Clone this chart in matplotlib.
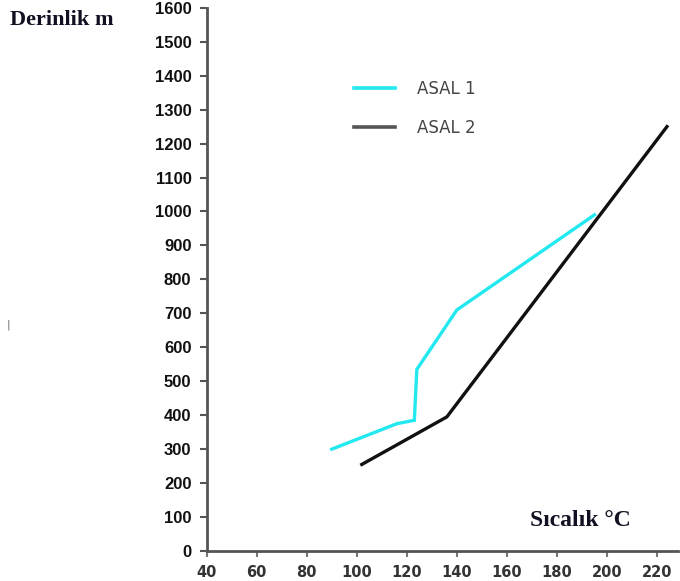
import matplotlib
matplotlib.use("Agg")
import matplotlib.pyplot as plt
from matplotlib.lines import Line2D

# Data
asal1_temp = [90, 116, 123, 124, 140, 195]
asal1_depth = [300, 375, 385, 535, 710, 990]
asal2_temp = [102, 136, 224]
asal2_depth = [255, 395, 1250]
x_ticks = [40, 60, 80, 100, 120, 140, 160, 180, 200, 220]
y_ticks = list(range(0, 1700, 100))

fig = plt.figure(figsize=(6.8, 5.81), dpi=100)
ax = fig.add_axes([0.304, 0.0516, 0.693, 0.935])

ax.plot(asal1_temp, asal1_depth, color="#22e8ef", lw=2.4, solid_joinstyle="miter")
ax.plot(asal2_temp, asal2_depth, color="#111111", lw=2.4, solid_joinstyle="miter")

ax.set_xlim(40, 228.4)
ax.set_ylim(0, 1600)
ax.set_xticks(x_ticks)
ax.set_yticks(y_ticks)
ax.set_xticklabels([str(v) for v in x_ticks], fontfamily="DejaVu Sans",
                   fontweight="bold", fontsize=10.5, color="#333333")
ax.set_yticklabels([str(v) for v in y_ticks], fontfamily="Liberation Sans",
                   fontweight="bold", fontsize=12, color="#111111")

for s in ["top", "right"]:
    ax.spines[s].set_visible(False)
for s in ["left", "bottom"]:
    ax.spines[s].set_color("#555555")
    ax.spines[s].set_linewidth(2)
ax.tick_params(axis="y", direction="out", length=5, width=1.5, color="#555555", pad=6)
ax.tick_params(axis="x", direction="out", length=4, width=1.5, color="#777777", pad=6)

handles = [Line2D([], [], color="#22e8ef", lw=2.6),
           Line2D([], [], color="#555555", lw=2.6)]
leg = ax.legend(handles, ["ASAL 1", "ASAL 2"], frameon=False,
                loc="upper left", bbox_to_anchor=(0.28, 0.895),
                handlelength=2.5, handletextpad=1.3, labelspacing=1.25,
                prop={"family": "DejaVu Sans", "size": 12})
for t in leg.get_texts():
    t.set_color("#444444")

fig.text(10 / 680, 1 - 20 / 581, "Derinlik m", fontfamily="Liberation Serif",
         fontweight="bold", fontsize=16, color="#111122", va="center", ha="left")
fig.text(580 / 680, 1 - 521 / 581, "Sıcalık °C", fontfamily="Liberation Serif",
         fontweight="bold", fontsize=17, color="#111122", va="center", ha="center")
fig.text(8 / 680, 1 - 325 / 581, "|", fontfamily="DejaVu Sans", fontsize=8,
         color="#666666", va="center", ha="center")

fig.savefig("out.png", dpi=100)
